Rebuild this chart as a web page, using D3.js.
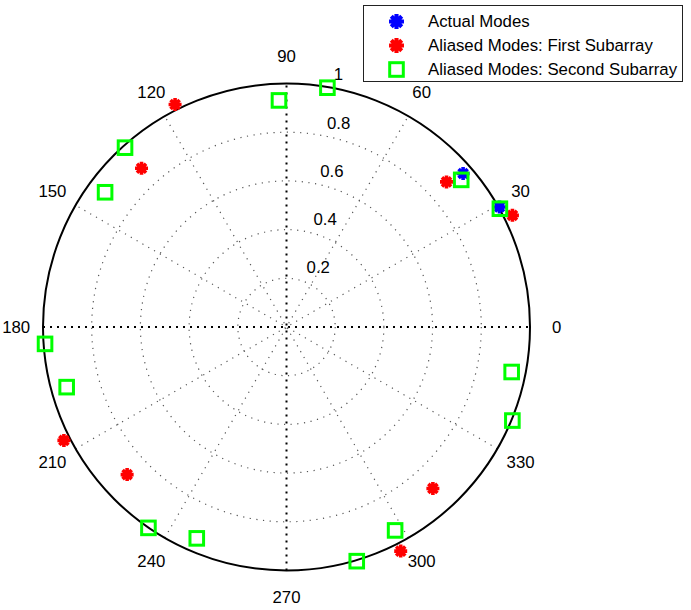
<!DOCTYPE html>
<html><head><meta charset="utf-8">
<script src="https://cdn.jsdelivr.net/npm/d3@7"></script>
<style>body{margin:0;background:#fff}svg{display:block}text{font-family:"Liberation Sans",Arial,sans-serif}</style>
</head><body><svg id="c" width="691" height="610"></svg>
<script>
// data: angle in degrees, radius
const actualAngles = [41.0, 29.4];
const actualRadii  = [0.961, 1.004];
const firstAngles  = [26.3, 42.2, 116.6, 132.4, 207.0, 222.8, 297.0, 312.2];
const firstRadii   = [1.035, 0.887, 1.022, 0.883, 1.026, 0.892, 1.033, 0.895];
const secondAngles = [29.0, 40.1, 80.3, 91.9, 132.0, 143.4, 184.0, 195.3, 235.5, 247.0, 286.7, 298.1, 337.5, 348.7];
const secondRadii  = [1.002, 0.938, 0.997, 0.931, 0.991, 0.928, 0.994, 0.936, 1.001, 0.943, 1.004, 0.947, 1.004, 0.943];
const ringTicks = [0.2, 0.4, 0.6, 0.8, 1];
const spokeAngles = [0, 30, 60, 90, 120, 150, 180, 210, 240, 270, 300, 330];
const legendLabels = ["Actual Modes", "Aliased Modes: First Subarray", "Aliased Modes: Second Subarray"];

const svg = d3.select("#c");
const cx = 286.5, cy = 327;
const r = d3.scaleLinear().domain([0, 1]).range([0, 243.5]);
const toRad = d => d * Math.PI / 180;
const px = (a, v) => cx + r(v) * Math.cos(toRad(a));
const py = (a, v) => cy - r(v) * Math.sin(toRad(a));
const FS = "16.8px";

const g = svg.append("g");
// dotted rings
g.selectAll(".ring").data(ringTicks.filter(t => t < 1)).join("circle")
  .attr("cx", cx).attr("cy", cy).attr("r", d => r(d))
  .attr("fill", "none").attr("stroke", "#555").attr("stroke-width", 1.2)
  .attr("stroke-dasharray", "1.2,5.5");
// spokes
g.selectAll(".spoke").data(spokeAngles.filter(a => a < 180)).join("line")
  .attr("x1", a => px(a + 180, 1)).attr("y1", a => py(a + 180, 1))
  .attr("x2", a => px(a, 1)).attr("y2", a => py(a, 1))
  .attr("stroke", a => a % 90 === 0 ? "#000" : "#555")
  .attr("stroke-width", a => a % 90 === 0 ? 2 : 1.2)
  .attr("stroke-dasharray", a => a % 90 === 0 ? "2,5" : "1.2,5.5");
// outer circle
g.append("circle").attr("cx", cx).attr("cy", cy).attr("r", r(1))
  .attr("fill", "none").attr("stroke", "#000").attr("stroke-width", 2);

// angle labels
g.selectAll(".alab").data(spokeAngles).join("text")
  .attr("x", a => px(a, 1.11)).attr("y", a => py(a, 1.11))
  .attr("text-anchor", "middle").attr("dominant-baseline", "central")
  .style("font-size", FS).attr("fill", "#000").text(a => a);
// ring labels
g.selectAll(".rlab").data(ringTicks).join("text")
  .attr("x", t => px(82, t + 0.01) + 13).attr("y", t => py(82, t + 0.01) - 3)
  .style("font-size", FS).attr("fill", "#000").text(t => t);

// markers
function star(sel, color, k) {
  k = k || 1;
  const s = 6.5 * k;
  const p = `M${-s},0L${s},0M0,${-s}L0,${s}M${-s*0.7},${-s*0.7}L${s*0.7},${s*0.7}M${-s*0.7},${s*0.7}L${s*0.7},${-s*0.7}`;
  sel.append("path").attr("d", p).attr("stroke", color).attr("stroke-width", 3.6 * k)
    .attr("fill", "none").attr("stroke-linecap", "butt");
  sel.append("circle").attr("r", 3.6 * k).attr("fill", color);
}
function square(sel) {
  sel.append("rect").attr("x", -6.8).attr("y", -6.8).attr("width", 13.6).attr("height", 13.6)
    .attr("fill", "none").attr("stroke", "#00ff00").attr("stroke-width", 3);
}
const actual = actualAngles.map((a, i) => [a, actualRadii[i]]);
const first = firstAngles.map((a, i) => [a, firstRadii[i]]);
const second = secondAngles.map((a, i) => [a, secondRadii[i]]);

g.selectAll(".act").data(actual).join("g")
  .attr("transform", d => `translate(${px(d[0], d[1])},${py(d[0], d[1])})`)
  .each(function () { star(d3.select(this), "#0000ff"); });
g.selectAll(".fst").data(first).join("g")
  .attr("transform", d => `translate(${px(d[0], d[1])},${py(d[0], d[1])})`)
  .each(function () { star(d3.select(this), "#ff0000"); });
g.selectAll(".snd").data(second).join("g")
  .attr("transform", d => `translate(${px(d[0], d[1])},${py(d[0], d[1])})`)
  .each(function () { square(d3.select(this)); });

// legend
const lg = svg.append("g");
lg.append("rect").attr("x", 363.5).attr("y", 5.5).attr("width", 319).attr("height", 76)
  .attr("fill", "#fff").attr("stroke", "#222").attr("stroke-width", 1);
const items = lg.selectAll(".li").data(legendLabels).join("g")
  .attr("transform", (d, i) => `translate(0,${21.5 + i * 24})`);
items.each(function (d, i) {
  const s = d3.select(this).append("g").attr("transform", "translate(396.5,0)");
  if (i === 0) star(s, "#0000ff", 1.15);
  else if (i === 1) star(s, "#ff0000", 1.15);
  else square(s);
});
items.append("text").attr("x", 428).attr("y", 0).attr("dominant-baseline", "central")
  .style("font-size", FS).attr("fill", "#000").text(d => d);
</script></body></html>
